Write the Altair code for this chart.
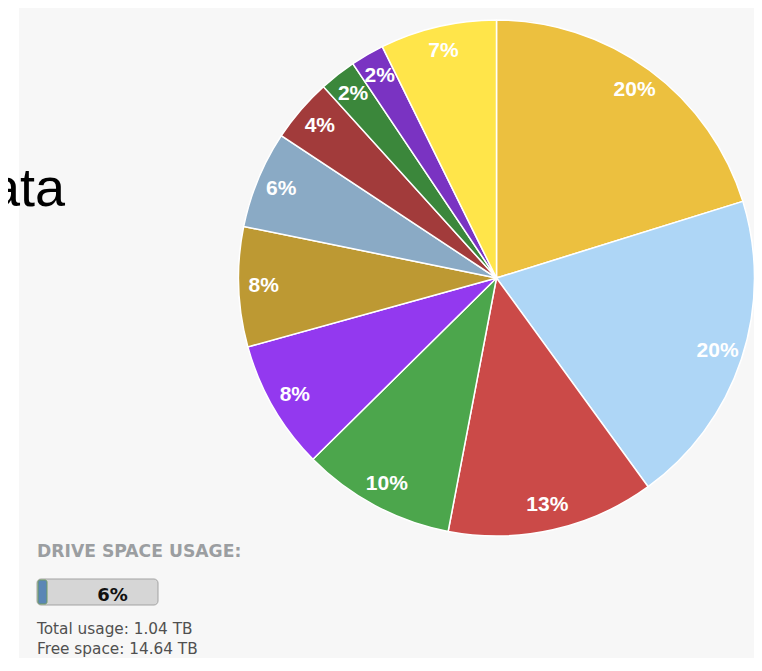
import altair as alt
import pandas as pd

# ---- data ----
categories = ["Slice 1", "Slice 2", "Slice 3", "Slice 4", "Slice 5", "Slice 6",
              "Slice 7", "Slice 8", "Slice 9", "Slice 10", "Slice 11"]
values = [20.2, 19.8, 13.0, 9.6, 8.1, 7.5, 6.1, 4.0, 2.3, 2.1, 7.3]
labels = ["20%", "20%", "13%", "10%", "8%", "8%", "6%", "4%", "2%", "2%", "7%"]
colors = ["#ECC03F", "#AED6F6", "#CB4A48", "#4CA64C", "#9339EF", "#BD9933",
          "#8AAAC5", "#A23B3B", "#3B873B", "#7A33C2", "#FFE54A"]

side_text = ["ata"]
usage_title = ["DRIVE SPACE USAGE:"]
usage_pct = ["6%"]
info_lines = ["Total usage: 1.04 TB", "Free space: 14.64 TB"]

W, H = 746, 650
CX, CY, R = 488.5, 270, 258

df = pd.DataFrame({"cat": categories, "value": values, "label": labels,
                   "idx": list(range(len(categories)))})
one = pd.DataFrame({"k": [0]})

bg = alt.Chart(one).mark_rect(color="#F7F7F7").encode(
    x=alt.value(11), x2=alt.value(W), y=alt.value(0), y2=alt.value(H))

ata = alt.Chart(one).mark_text(
    align="right", baseline="alphabetic", fontSize=54, color="#000000",
    font="Liberation Sans Narrow, Liberation Sans"
).encode(x=alt.value(57), y=alt.value(198), text=alt.value(side_text[0]))

base = alt.Chart(df).encode(
    theta=alt.Theta("value:Q", stack=True),
    order=alt.Order("idx:Q", sort="ascending"),
)

pie = base.mark_arc(outerRadius=R, stroke="#FFFFFF", strokeWidth=1.5).encode(
    color=alt.Color("cat:N", scale=alt.Scale(domain=categories, range=colors),
                    legend=None),
    x=alt.value(CX), y=alt.value(CY),
)

pie_labels = base.mark_text(
    radius=233, fontSize=21, fontWeight="bold", color="#FFFFFF",
    font="Liberation Sans", align="center", baseline="middle"
).encode(text="label:N", x=alt.value(CX), y=alt.value(CY))

title_txt = alt.Chart(one).mark_text(
    align="left", baseline="alphabetic", fontSize=17.2, fontWeight="bold",
    color="#9B9EA1", font="DejaVu Sans"
).encode(x=alt.value(29), y=alt.value(549), text=alt.value(usage_title[0]))

bar_bg = alt.Chart(one).mark_rect(
    color="#D6D6D6", stroke="#A3A3A3", strokeWidth=1, cornerRadius=4
).encode(x=alt.value(29), x2=alt.value(150), y=alt.value(571), y2=alt.value(597))

bar_fill = alt.Chart(one).mark_rect(
    color="#5A86B5", stroke="#6F9B62", strokeWidth=1, cornerRadius=2
).encode(x=alt.value(30), x2=alt.value(39), y=alt.value(572), y2=alt.value(596))

pct_txt = alt.Chart(one).mark_text(
    align="center", baseline="alphabetic", fontSize=18, fontWeight="bold",
    color="#111111", font="DejaVu Sans"
).encode(x=alt.value(104.5), y=alt.value(593), text=alt.value(usage_pct[0]))

info1 = alt.Chart(one).mark_text(
    align="left", baseline="alphabetic", fontSize=15.3, color="#505050",
    font="DejaVu Sans"
).encode(x=alt.value(29), y=alt.value(626), text=alt.value(info_lines[0]))

info2 = alt.Chart(one).mark_text(
    align="left", baseline="alphabetic", fontSize=15.3, color="#505050",
    font="DejaVu Sans"
).encode(x=alt.value(29), y=alt.value(646), text=alt.value(info_lines[1]))

chart = alt.layer(
    bg, ata, pie, pie_labels, title_txt, bar_bg, bar_fill, pct_txt, info1, info2
).properties(
    width=W, height=H, padding=0, background="#FFFFFF",
    autosize=alt.AutoSizeParams(type="none")
).configure_view(stroke=None)

chart.save("out.html", embed_options={"renderer": "svg", "actions": False})
